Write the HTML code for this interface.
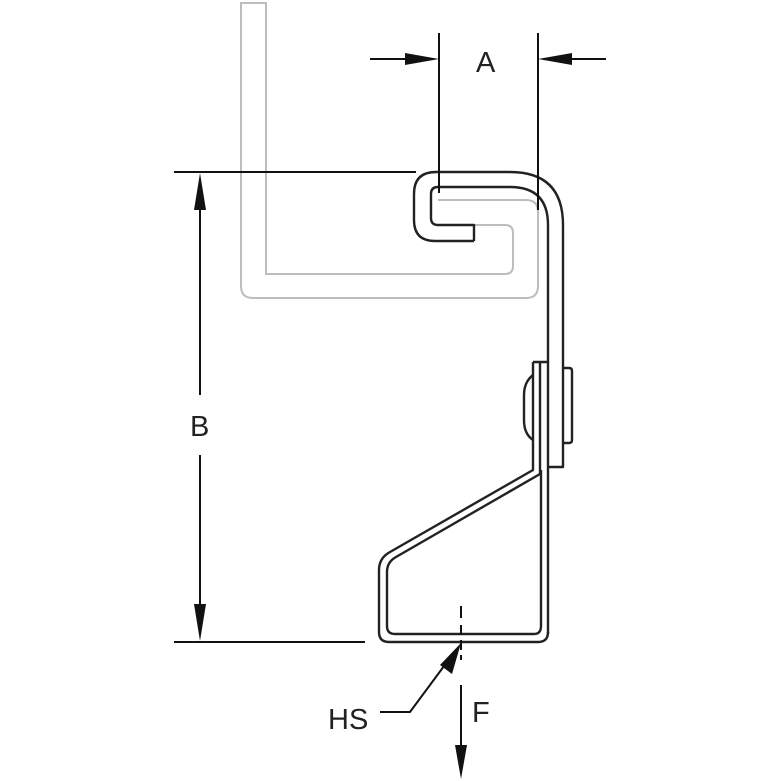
<!DOCTYPE html>
<html><head><style>body{margin:0;background:#fff}svg{display:block}</style></head><body>
<svg width="781" height="781" viewBox="0 0 781 781" xmlns="http://www.w3.org/2000/svg">
<rect width="781" height="781" fill="#fff"/>
<!-- gray channel -->
<path d="M438,200 L526,200 Q538,200 538,212 L538,286 Q538,298 526,298 L253,298 Q241,298 241,286 L241,3 L266,3 L266,274 L505,274 Q513,274 513,266 L513,233 Q513,225 505,225 L438,225" fill="none" stroke="#bdbdbd" stroke-width="2"/>
<g fill="none" stroke="#222" stroke-width="2.4" stroke-linejoin="round">
<!-- hook outer -->
<path d="M474,241 L435,241 Q414,241 414,220 L414,194 Q414,172 436,172 L510,172 Q563,172 563,225 L563,467 L548,467"/>
<!-- hook inner -->
<path d="M474,241 L474,225 L438,225 Q431,225 431,218 L431,194 Q431,187 438,187 L510,187 Q548,187 548,225 L548,634"/>
<!-- bracket -->
<path d="M533,362 L548,362 M533,362 L533,470 L390,552 Q379,558 379,570 L379,632 Q379,642 389,642 L538,642 Q548,642 548,632"/>
<path d="M540,362 L540,474 L396,557 Q387,562 387,572 L387,626 Q387,634 395,634 L534,634 Q541,634 541,626 L541,470"/>
<!-- washers -->
<path d="M563,368 L569,368 Q572,368 572,371 L572,440 Q572,443 569,443 L563,443"/>
<path d="M533,375 Q524,382 524,395 L524,420 Q524,434 533,440"/>
</g>
<g stroke="#111" stroke-width="2" fill="none">
<line x1="439" y1="33" x2="439" y2="193"/>
<line x1="538" y1="33" x2="538" y2="210"/>
<line x1="370" y1="59" x2="420" y2="59"/>
<line x1="558" y1="59" x2="606" y2="59"/>
<line x1="174" y1="172" x2="416" y2="172"/>
<line x1="174" y1="642" x2="365" y2="642"/>
<line x1="200" y1="195" x2="200" y2="395"/>
<line x1="200" y1="455" x2="200" y2="620"/>
<line x1="461" y1="606" x2="461" y2="618" />
<line x1="461" y1="625" x2="461" y2="660" stroke-dasharray="10,5"/>
<line x1="461" y1="685" x2="461" y2="755"/>
<polyline points="380,712 410,712 450,658"/>
</g>
<g fill="#111">
<polygon points="439,59 405,53 405,65"/>
<polygon points="538,59 572,53 572,65"/>
<polygon points="200,173 194,210 206,210"/>
<polygon points="200,641 194,604 206,604"/>
<polygon points="461,779 455,745 467,745"/>
<polygon points="461,643 440,665 452,674"/>
</g>
<g font-family="Liberation Sans, sans-serif" font-size="29" fill="#222">
<text x="476" y="72">A</text>
<text x="190" y="436">B</text>
<text x="328" y="729">HS</text>
<text x="472" y="722">F</text>
</g>
</svg>
</body></html>
